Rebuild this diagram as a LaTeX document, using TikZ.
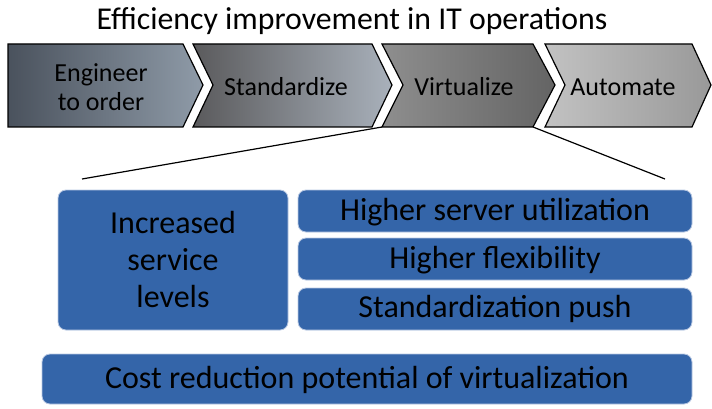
\documentclass[tikz,border=0pt]{standalone}
\usepackage{fontspec}
\setmainfont{Carlito}
\definecolor{boxblue}{HTML}{3465A9}
\definecolor{boxedge}{HTML}{B8C8E2}
\definecolor{ca}{HTML}{4A525D}
\definecolor{cb}{HTML}{8F9BA8}
\definecolor{cc}{HTML}{5A5A5C}
\definecolor{cd}{HTML}{A9B1BB}
\definecolor{ce}{HTML}{8E8E8E}
\definecolor{cf}{HTML}{646464}
\definecolor{cg}{HTML}{C2C2C2}
\definecolor{ch}{HTML}{999999}
\begin{document}
\begin{tikzpicture}[x=1pt,y=-1pt,
  chev/.style={draw=black, line width=1.2pt},
  chevtext/.style={font=\fontsize{26}{29}\selectfont, align=center, inner sep=0pt},
  bluebox/.style={fill=boxblue, draw=boxedge, line width=0.8pt, rounded corners=8pt},
  boxtext/.style={font=\fontsize{32}{37}\selectfont, align=center, inner sep=0pt},
  zoomline/.style={draw=black, line width=1.2pt}]
\useasboundingbox (0,0) rectangle (712,409);
% title
\node[font=\fontsize{31.8}{36}\selectfont, inner sep=0pt] (title) at (352,21) {Efficiency improvement in IT operations};
% chevrons
\path[chev, left color=ca, right color=cb]
  (8,44) -- (183,44) -- (203,85) -- (183,127) -- (8,127) -- cycle;
\path[chev, left color=cc, right color=cd]
  (193,44) -- (372,44) -- (392,85) -- (372,127) -- (193,127) -- (213,85) -- cycle;
\path[chev, left color=ce, right color=cf]
  (382,44) -- (533,44) -- (555,85) -- (533,127) -- (382,127) -- (403,85) -- cycle;
\path[chev, left color=cg, right color=ch]
  (545,44) -- (692,44) -- (711,85) -- (692,127) -- (545,127) -- (565,85) -- cycle;
\node[chevtext] (c1) at (101,87) {Engineer\\to order};
\node[chevtext] (c2) at (286,87) {Standardize};
\node[chevtext] (c3) at (464,87) {Virtualize};
\node[chevtext] (c4) at (623,87) {Automate};
% zoom lines
\coordinate (vl) at (382,127);
\coordinate (vr) at (533,127);
\coordinate (zl) at (82,179);
\coordinate (zr) at (665,179);
\draw[zoomline] (vl) -- (zl);
\draw[zoomline] (vr) -- (zr);
% boxes
\path[bluebox] (58,190) rectangle (288,330);
\node[boxtext] (b1) at (173,260) {Increased\\service\\levels};
\path[bluebox] (298,190) rectangle (692,232);
\node[boxtext] (b2) at (495,212) {Higher server utilization};
\path[bluebox] (298,238) rectangle (692,280);
\node[boxtext] (b3) at (495,260) {Higher flexibility};
\path[bluebox] (298,288) rectangle (692,330);
\node[boxtext] (b4) at (495,309) {Standardization push};
\path[bluebox] (42,354) rectangle (692,404);
\node[boxtext] (b5) at (367,380) {Cost reduction potential of virtualization};
\end{tikzpicture}
\end{document}
